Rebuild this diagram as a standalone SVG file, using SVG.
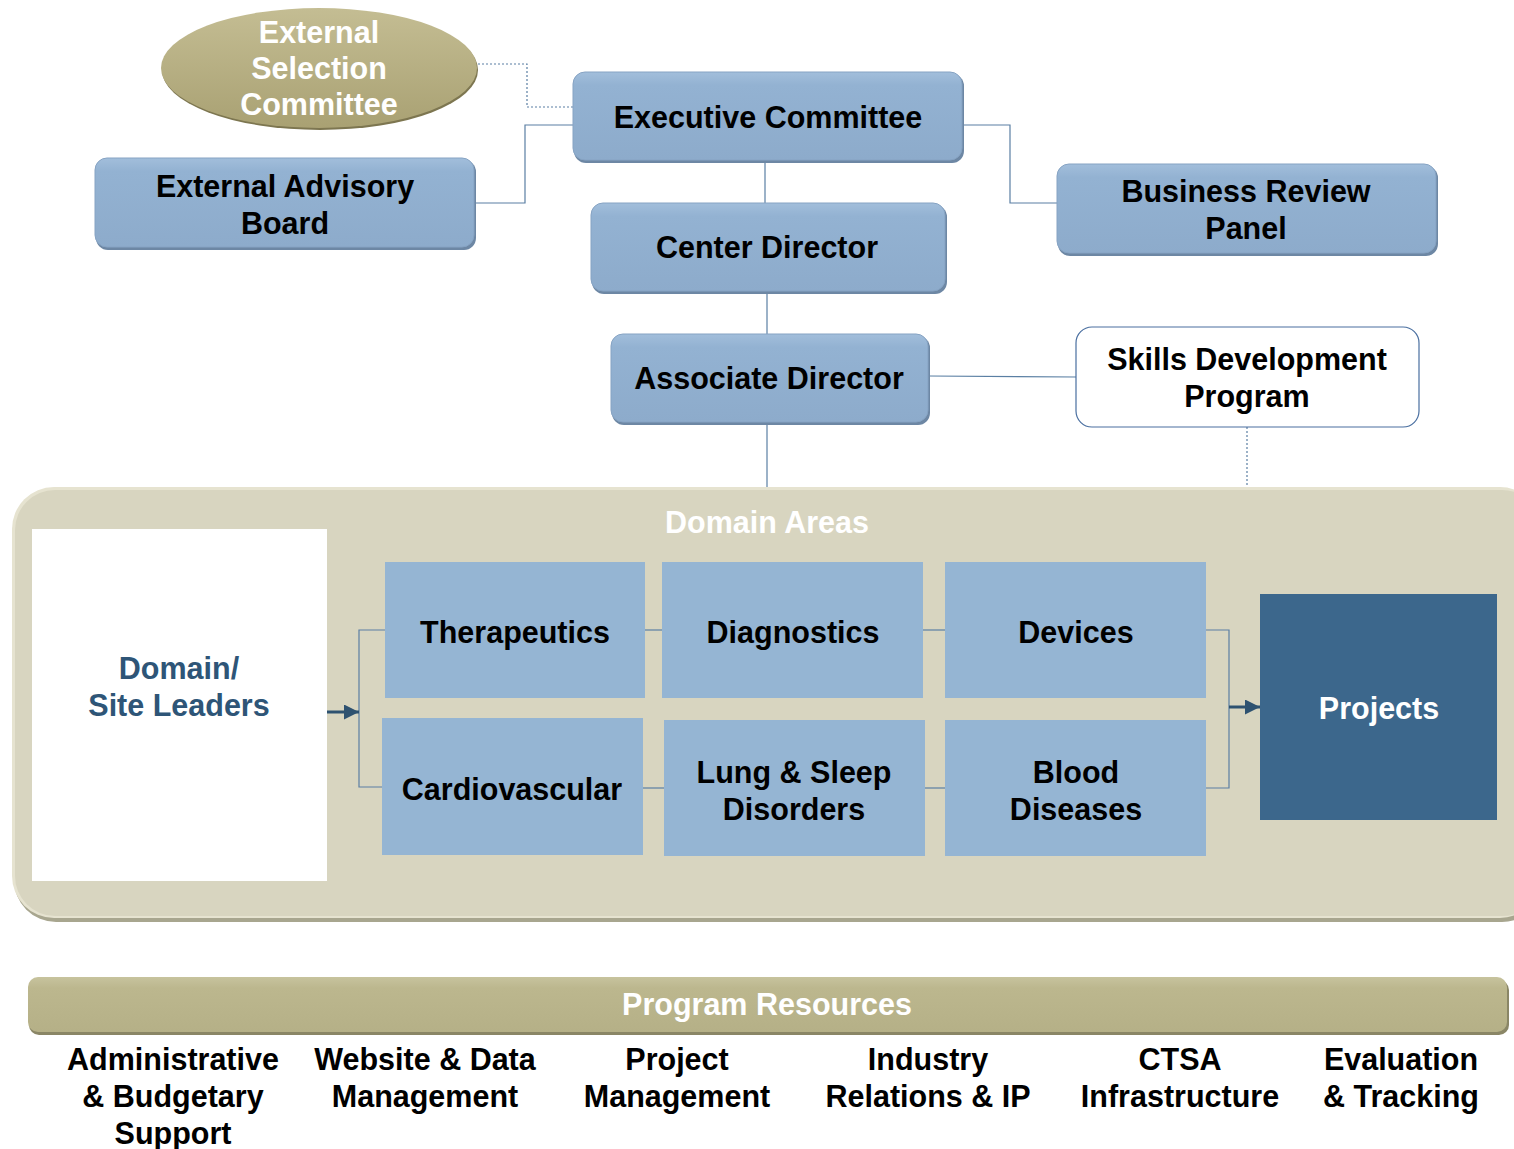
<svg xmlns="http://www.w3.org/2000/svg" width="1514" height="1149" viewBox="0 0 1514 1149">
<defs>
<linearGradient id="gBlue" x1="0" y1="0" x2="0" y2="1">
<stop offset="0" stop-color="#a2bedb"/>
<stop offset="0.15" stop-color="#93b2d2"/>
<stop offset="1" stop-color="#8dabcb"/>
</linearGradient>
<linearGradient id="gOlive" x1="0" y1="0" x2="0" y2="1">
<stop offset="0" stop-color="#c4bd93"/>
<stop offset="1" stop-color="#a9a173"/>
</linearGradient>
<linearGradient id="gBar" x1="0" y1="0" x2="0" y2="1">
<stop offset="0" stop-color="#c7c39e"/>
<stop offset="0.2" stop-color="#bcb78e"/>
<stop offset="1" stop-color="#b5b087"/>
</linearGradient>
<marker id="arr" viewBox="0 0 10 10" refX="10" refY="5" markerWidth="6" markerHeight="5" orient="auto" markerUnits="strokeWidth">
<path d="M0,0 L10,5 L0,10 z" fill="#2e5270"/>
</marker>
</defs>
<style>
.t{font-family:"Liberation Sans",Arial,sans-serif;font-weight:bold;font-size:30.5px;text-anchor:middle;fill:#000}
.w{fill:#fff}
.sh{fill:#6d87a4}
.box{fill:url(#gBlue);stroke:#86a3c3;stroke-width:1}
.sq{fill:#95b5d3}
.ln{fill:none;stroke:#5a7fa3;stroke-width:1.2}
.dt{fill:none;stroke:#5a7fa3;stroke-width:1.2;stroke-dasharray:2,2}
.ar{fill:none;stroke:#2e5270;stroke-width:3}
</style>

<g id="connectors">
<path class="dt" d="M478,64 H527 V107 H573"/>
<path class="ln" d="M475,203 H525 V125 H573"/>
<path class="ln" d="M765,161 V203"/>
<path class="ln" d="M963,125 H1010 V203 H1057"/>
<path class="ln" d="M767,292 V334"/>
<path class="ln" d="M929,376 L1076,377"/>
<path class="ln" d="M767,423 V490"/>
<path class="dt" d="M1247,427 V487"/>
</g>

<g id="domain-areas">
<rect x="14" y="490" width="1530" height="432" rx="42" fill="#a8a68f"/>
<rect x="12" y="487" width="1530" height="431" rx="42" fill="#e6e3d0"/>
<rect x="15" y="490" width="1527" height="426" rx="40" fill="#d8d5c0"/>
<text class="t w" x="767" y="533" font-size="29">Domain Areas</text>
</g>

<g id="inner-connectors">
<path class="ln" d="M385,630 H359 V787 H382"/>
<path class="ar" d="M327,712 H359" marker-end="url(#arr)"/>
<path class="ln" d="M645,630 H662"/>
<path class="ln" d="M923,630 H945"/>
<path class="ln" d="M643,788 H664"/>
<path class="ln" d="M925,788 H945"/>
<path class="ln" d="M1206,630 H1229 V788 H1206"/>
<path class="ar" d="M1229,707 H1260" marker-end="url(#arr)"/>
</g>

<g id="domain-site-leaders">
<rect x="32" y="529" width="295" height="352" fill="#fff"/>
<text class="t" x="179" y="679" style="fill:#2e5577">Domain/</text>
<text class="t" x="179" y="716" style="fill:#2e5577">Site Leaders</text>
</g>

<g id="therapeutics"><rect class="sq" x="385" y="562" width="260" height="136"/><text class="t" x="515" y="643">Therapeutics</text></g>
<g id="diagnostics"><rect class="sq" x="662" y="562" width="261" height="136"/><text class="t" x="793" y="643">Diagnostics</text></g>
<g id="devices"><rect class="sq" x="945" y="562" width="261" height="136"/><text class="t" x="1076" y="643">Devices</text></g>
<g id="cardiovascular"><rect class="sq" x="382" y="718" width="261" height="137"/><text class="t" x="512" y="800">Cardiovascular</text></g>
<g id="lung-sleep"><rect class="sq" x="664" y="720" width="261" height="136"/><text class="t" x="794" y="783">Lung &amp; Sleep</text><text class="t" x="794" y="820">Disorders</text></g>
<g id="blood-diseases"><rect class="sq" x="945" y="720" width="261" height="136"/><text class="t" x="1076" y="783">Blood</text><text class="t" x="1076" y="820">Diseases</text></g>
<g id="projects"><rect x="1260" y="594" width="237" height="226" fill="#3c678c"/><text class="t w" x="1379" y="719">Projects</text></g>

<g id="external-selection-committee">
<ellipse cx="320" cy="70" rx="158" ry="60" fill="#7d7650"/>
<ellipse cx="319" cy="68" rx="158" ry="60" fill="url(#gOlive)"/>
<text class="t w" x="319" y="43">External</text>
<text class="t w" x="319" y="79">Selection</text>
<text class="t w" x="319" y="115">Committee</text>
</g>

<g id="executive-committee">
<rect class="sh" x="574" y="74" width="390" height="89" rx="12"/>
<rect class="box" x="573" y="72" width="389" height="88" rx="12"/>
<text class="t" x="768" y="128">Executive Committee</text>
</g>

<g id="external-advisory-board">
<rect class="sh" x="96" y="160" width="380" height="90" rx="12"/>
<rect class="box" x="95" y="158" width="379" height="89" rx="12"/>
<text class="t" x="285" y="197">External Advisory</text>
<text class="t" x="285" y="234">Board</text>
</g>

<g id="center-director">
<rect class="sh" x="592" y="205" width="355" height="89" rx="12"/>
<rect class="box" x="591" y="203" width="354" height="88" rx="12"/>
<text class="t" x="767" y="258">Center Director</text>
</g>

<g id="business-review-panel">
<rect class="sh" x="1058" y="166" width="380" height="90" rx="12"/>
<rect class="box" x="1057" y="164" width="379" height="89" rx="12"/>
<text class="t" x="1246" y="202">Business Review</text>
<text class="t" x="1246" y="239">Panel</text>
</g>

<g id="associate-director">
<rect class="sh" x="612" y="336" width="318" height="89" rx="12"/>
<rect class="box" x="611" y="334" width="317" height="88" rx="12"/>
<text class="t" x="769" y="389">Associate Director</text>
</g>

<g id="skills-development-program">
<rect x="1076" y="327" width="343" height="100" rx="16" fill="#fff" stroke="#4a6fa0" stroke-width="1.2"/>
<text class="t" x="1247" y="370">Skills Development</text>
<text class="t" x="1247" y="407">Program</text>
</g>

<g id="program-resources">
<rect x="29" y="980" width="1480" height="55" rx="10" fill="#8a8666"/>
<rect x="28" y="977" width="1479" height="55" rx="10" fill="url(#gBar)"/>
<text class="t w" x="767" y="1015" font-size="29">Program Resources</text>
</g>

<g id="resource-labels">
<text class="t" x="173" y="1070">Administrative</text>
<text class="t" x="173" y="1107">&amp; Budgetary</text>
<text class="t" x="173" y="1144">Support</text>
<text class="t" x="425" y="1070">Website &amp; Data</text>
<text class="t" x="425" y="1107">Management</text>
<text class="t" x="677" y="1070">Project</text>
<text class="t" x="677" y="1107">Management</text>
<text class="t" x="928" y="1070">Industry</text>
<text class="t" x="928" y="1107">Relations &amp; IP</text>
<text class="t" x="1180" y="1070">CTSA</text>
<text class="t" x="1180" y="1107">Infrastructure</text>
<text class="t" x="1401" y="1070">Evaluation</text>
<text class="t" x="1401" y="1107">&amp; Tracking</text>
</g>
</svg>
